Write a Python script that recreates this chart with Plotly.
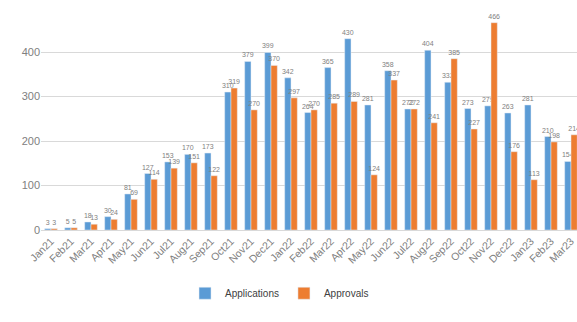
import plotly.graph_objects as go

months = ["Jan21","Feb21","Mar21","Apr21","May21","Jun21","Jul21","Aug21","Sep21","Oct21",
          "Nov21","Dec21","Jan22","Feb22","Mar22","Apr22","May22","Jun22","Jul22","Aug22",
          "Sep22","Oct22","Nov22","Dec22","Jan23","Feb23","Mar23"]
applications = [3,5,18,30,81,127,153,170,173,310,379,399,342,264,365,430,281,358,272,404,
                332,273,279,263,281,210,154]
approvals = [3,5,13,24,69,114,139,151,122,319,270,370,297,270,285,289,124,337,272,241,
             385,227,466,176,113,198,214]

fig = go.Figure()
fig.add_trace(go.Bar(x=months, y=applications, name="Applications", marker_color="#5B9BD5",
                     text=applications, textposition="outside", constraintext="none",
                     textfont=dict(size=7, color="#7f7f7f")))
fig.add_trace(go.Bar(x=months, y=approvals, name="Approvals", marker_color="#ED7D31",
                     text=approvals, textposition="outside", constraintext="none",
                     textfont=dict(size=7, color="#7f7f7f")))

fig.update_layout(
    width=577, height=322,
    margin=dict(l=41, r=0, t=12, b=92),
    paper_bgcolor="white", plot_bgcolor="white",
    barmode="group", bargap=0.37, bargroupgap=0,
    font=dict(family="Liberation Sans, Arial, sans-serif", color="#595959"),
    xaxis=dict(range=[-0.5, 26.3], tickangle=-45, tickfont=dict(size=10.5, color="#808080"),
               showline=True, linecolor="#d9d9d9", ticks=""),
    yaxis=dict(range=[0, 490], tickvals=[0,100,200,300,400], showgrid=True, gridcolor="#d9d9d9",
               tickfont=dict(size=11, color="#808080"), zeroline=False),
    legend=dict(orientation="h", x=0.445, xanchor="center", y=-0.29, yanchor="middle",
                font=dict(size=10, color="#404040"), itemwidth=30, tracegroupgap=0),
)
fig.write_html("out.html")
